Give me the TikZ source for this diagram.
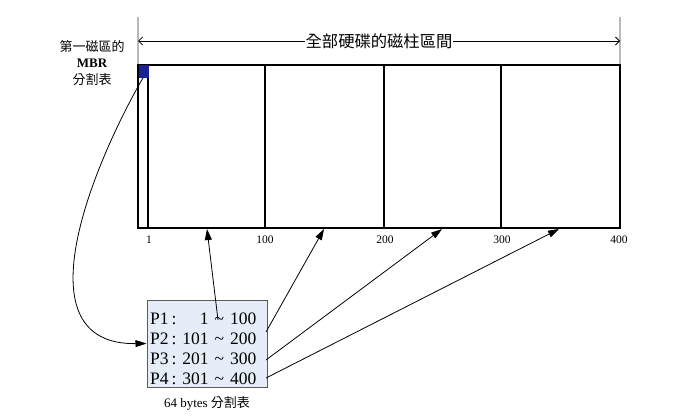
\documentclass[tikz,border=0pt]{standalone}
\usepackage{fontspec}
\setmainfont{Liberation Serif}
\newfontfamily\cjk{Noto Sans CJK TC}
\usetikzlibrary{
    arrows.meta,
    positioning,
    calc
}
\definecolor{MbrBlue}{RGB}{25,35,150}
\definecolor{TblFill}{RGB}{230,237,248}
\definecolor{EdgeGray}{RGB}{90,90,90}
\tikzset{
  guide/.style   = {draw=gray!55, line width=2pt},
  disk/.style    = {draw, line width=1.2pt},
  tick/.style    = {font=\fontsize{11.5}{12}\selectfont, anchor=north},
  arr/.style     = {-{Triangle[length=11pt,width=7pt]}, line width=0.8pt},
  span/.style    = {{Straight Barb[length=4pt,width=8pt]}-{Straight Barb[length=4pt,width=8pt]}, line width=0.8pt}
}

\begin{document}
\begin{tikzpicture}[x=1pt, y=-1pt]
\useasboundingbox (0,0) rectangle (690,415);
% guides and disk area
\draw[guide] (138,17) -- (138,228);
\draw[guide] (620,17) -- (620,228);
\draw[disk] (138,65) rectangle (620,228);
\foreach \xx in {148,265,384,501}
  \draw[disk] (\xx,65) -- (\xx,228);
\draw[span] (138,41) -- node[fill=white, inner sep=1pt, font=\cjk\fontsize{16.3}{17}\selectfont] (all) {全部硬碟的磁柱區間} (620,41);
% MBR block
\node[draw=MbrBlue, fill=MbrBlue, minimum width=9pt, minimum height=12pt, inner sep=0pt, anchor=north west] (mbr) at (138.5,65) {};
\node[align=center, font=\cjk\fontsize{13}{16.5}\selectfont] (mbrlab) at (92,63) {第一磁區的\\{\rmfamily\bfseries MBR}\\分割表};
% cylinder labels
\node[tick] (n1) at (149,232) {1};
\node[tick] (n100) at (265,232) {100};
\node[tick] (n200) at (385,232) {200};
\node[tick] (n300) at (502,232) {300};
\node[tick] (n400) at (619,232) {400};
% partition table
\node[draw=EdgeGray, fill=TblFill, line width=1pt, minimum width=120pt, minimum height=87pt, inner sep=0pt] (tbl) at (207,343.5) {};
\node[font=\fontsize{17.5}{20}\selectfont, anchor=west, inner sep=0pt] (rows) at (150,350.5)
  {\def\arraystretch{1}\begin{tabular}{@{}l@{\hspace{6pt}}r@{\hspace{6pt}\textasciitilde\hspace{6pt}}r@{}}
   P1\,: & 1 & 100\\ P2\,: & 101 & 200\\ P3\,: & 201 & 300\\ P4\,: & 301 & 400\end{tabular}};
\node[below=5pt of tbl, font=\fontsize{13}{14}\selectfont] (cap) {64 bytes {\cjk 分割表}};
% arrow ends
\coordinate (s1) at (218,320);
\coordinate (s2) at (266,332);
\coordinate (s3) at (266,360);
\coordinate (s4) at (266,378);
\coordinate (e1) at (207,229);
\coordinate (e2) at (324,229);
\coordinate (e3) at (442,229);
\coordinate (e4) at (559,229);
\draw[arr] (mbr.south) .. controls (90,170) and (20,345) .. (tbl.west);
\draw[arr] (s1) -- (e1);
\draw[arr] (s2) -- (e2);
\draw[arr] (s3) -- (e3);
\draw[arr] (s4) -- (e4);
\end{tikzpicture}
\end{document}
